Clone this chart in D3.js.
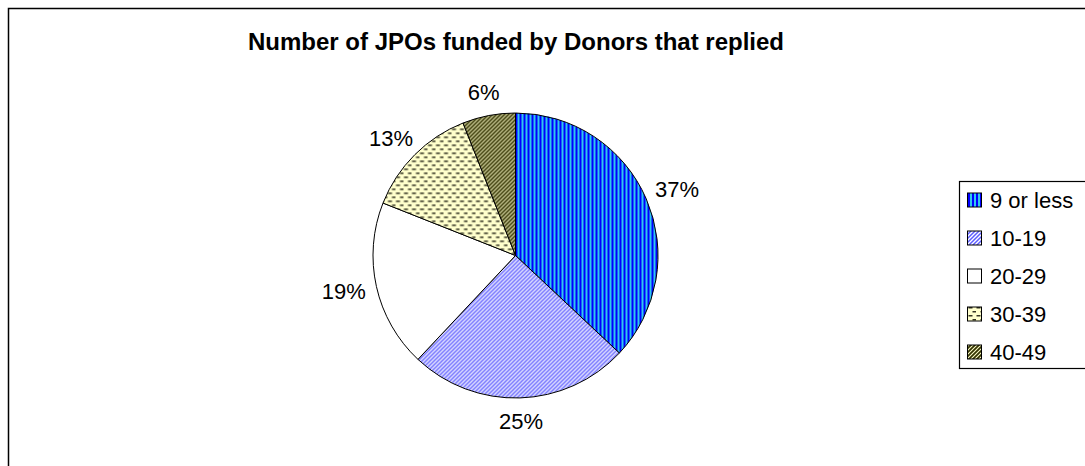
<!DOCTYPE html>
<html>
<head>
<meta charset="utf-8">
<script src="https://cdn.jsdelivr.net/npm/d3@7/dist/d3.min.js"></script>
<style>
  html, body { margin: 0; padding: 0; background: #fff; }
  svg { display: block; font-family: Arial, "Liberation Sans", sans-serif; }
</style>
</head>
<body>
<svg id="chart" width="1085" height="466"></svg>
<script>
// Share of donors by number of JPOs funded
const categories = ["9 or less", "10-19", "20-29", "30-39", "40-49"];
const shares = [37, 25, 19, 13, 6];
const patternIds = ["p9less", "p10", "p20", "p30", "p40"];
const title = "Number of JPOs funded by Donors that replied";

const svg = d3.select("#chart");
const defs = svg.append("defs");

// Fill patterns for each slice
function pat(id, w, h) {
  return defs.append("pattern").attr("id", id)
    .attr("patternUnits", "userSpaceOnUse").attr("width", w).attr("height", h);
}
// vertical blue / cyan stripes
let p = pat("p9less", 4, 4);
p.append("rect").attr("width", 4).attr("height", 4).attr("fill", "#30c8ec");
p.append("rect").attr("width", 2).attr("height", 4).attr("fill", "#0000ff");
// light blue upward diagonal
p = pat("p10", 4, 4);
p.append("rect").attr("width", 4).attr("height", 4).attr("fill", "#ffffff");
p.append("path").attr("d", "M-1,1 L1,-1 M0,4 L4,0 M3,5 L5,3")
  .attr("stroke", "#5c5cff").attr("stroke-width", 1.5);
// plain white
p = pat("p20", 4, 4);
p.append("rect").attr("width", 4).attr("height", 4).attr("fill", "#ffffff");
// dashed horizontal on pale yellow
p = pat("p30", 8, 8);
p.append("rect").attr("width", 8).attr("height", 8).attr("fill", "#ffffcc");
p.append("rect").attr("x", 0.5).attr("y", 1).attr("width", 4).attr("height", 1.5).attr("fill", "#333322");
p.append("rect").attr("x", 4.5).attr("y", 5).attr("width", 4).attr("height", 1.5).attr("fill", "#333322");
// dark wide upward diagonal on pale yellow
p = pat("p40", 4, 4);
p.append("rect").attr("width", 4).attr("height", 4).attr("fill", "#ffffcc");
p.append("path").attr("d", "M-1,1 L1,-1 M0,4 L4,0 M3,5 L5,3")
  .attr("stroke", "#333300").attr("stroke-width", 1.8);

// chart area border
svg.append("rect").attr("x", 8.5).attr("y", 8.5).attr("width", 1100).attr("height", 480)
  .attr("fill", "#fff").attr("stroke", "#000").attr("stroke-width", 1.5);

// title
svg.append("text").attr("x", 516).attr("y", 50).attr("text-anchor", "middle")
  .attr("font-weight", "bold").attr("font-size", 24).text(title);

// pie
const cx = 515.5, cy = 255.5, R = 142.5;
const pie = d3.pie().sort(null).value(d => d)(shares);
const arc = d3.arc().innerRadius(0).outerRadius(R);
const g = svg.append("g").attr("transform", `translate(${cx},${cy})`);

g.selectAll("path.slice").data(pie).join("path").attr("class", "slice")
  .attr("d", arc)
  .attr("fill", (d, i) => `url(#${patternIds[i]})`)
  .attr("stroke", "#000").attr("stroke-width", 1).attr("stroke-linejoin", "round");

// data labels: box pushed just outside the rim along the slice's mid-angle
const labelR = R + 11.5, halfH = 12;
g.selectAll("text.lbl").data(pie).join("text").attr("class", "lbl")
  .attr("text-anchor", "middle").attr("dominant-baseline", "central")
  .attr("font-size", 22).attr("fill", "#000")
  .text(d => d.data + "%")
  .each(function (d) {
    const a = (d.startAngle + d.endAngle) / 2;
    const ux = Math.sin(a), uy = -Math.cos(a);
    const halfW = this.getComputedTextLength() / 2;
    const x = labelR * ux + halfW * ux;
    const y = labelR * uy + halfH * uy;
    d3.select(this).attr("x", x).attr("y", y);
  });

// legend
const lg = svg.append("g");
const legTop = 181, legBottom = 368;
lg.append("rect").attr("x", 959.5).attr("y", legTop + 0.5).attr("width", 200).attr("height", legBottom - legTop)
  .attr("fill", "#fff").attr("stroke", "#000").attr("stroke-width", 1.2);
const rowY = d3.scalePoint().domain(categories).range([legTop + 19, legBottom - 16]);
const items = lg.selectAll("g.item").data(categories).join("g").attr("class", "item")
  .attr("transform", d => `translate(0,${rowY(d)})`);
items.append("rect").attr("x", 967.5).attr("y", -7).attr("width", 14).attr("height", 14)
  .attr("fill", (d, i) => `url(#${patternIds[i]})`).attr("stroke", "#000").attr("stroke-width", 1);
items.append("text").attr("x", 990).attr("y", 0).attr("dominant-baseline", "central")
  .attr("font-size", 22).text(d => d);
</script>
</body>
</html>
